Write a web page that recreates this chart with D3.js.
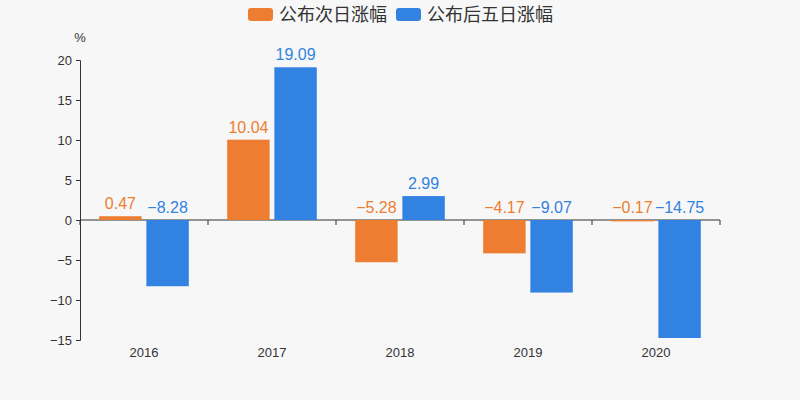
<!DOCTYPE html>
<html>
<head>
<meta charset="utf-8">
<script src="https://cdn.jsdelivr.net/npm/d3@7"></script>
<style>
  body { margin: 0; background: #f7f7f7; }
  svg { display: block; }
</style>
</head>
<body>
<script>
// 公布日涨幅 bar chart

const years = ["2016", "2017", "2018", "2019", "2020"];
const nextDay = [0.47, 10.04, -5.28, -4.17, -0.17];
const fiveDay = [-8.28, 19.09, 2.99, -9.07, -14.75];
const seriesNames = ["公布次日涨幅", "公布后五日涨幅"];
const colors = ["#ed7d31", "#3282e2"];
const yTicks = [-15, -10, -5, 0, 5, 10, 15, 20];

const width = 800, height = 400;
const margin = {top: 60, right: 80, bottom: 60, left: 80};
const fontNum = "'Liberation Sans', Arial, 'Noto Sans CJK SC', sans-serif";
const fontCJK = "'Noto Sans CJK SC', 'Microsoft YaHei', sans-serif";

const svg = d3.select("body").append("svg")
    .attr("width", width)
    .attr("height", height)
    .style("background", "#f7f7f7");

const x = d3.scaleBand()
    .domain(years)
    .range([margin.left, width - margin.right])
    .paddingInner(0.3)
    .paddingOuter(0.15);

const x1 = d3.scaleBand()
    .domain([0, 1])
    .range([0, x.bandwidth()])
    .paddingInner(0.1);

const y = d3.scaleLinear()
    .domain([-15, 20])
    .range([height - margin.bottom, margin.top]);

// y axis
const yAxis = svg.append("g")
    .attr("transform", "translate(" + margin.left + ",0)")
    .call(d3.axisLeft(y).tickValues(yTicks).tickSize(4).tickPadding(4)
        .tickFormat(d => d < 0 ? "\u2212" + Math.abs(d) : d));
yAxis.select(".domain").attr("stroke", "#333");
yAxis.selectAll(".tick line").attr("stroke", "#333");
yAxis.selectAll("text")
    .attr("fill", "#333")
    .style("font-family", fontNum)
    .style("font-size", "13px");

svg.append("text")
    .attr("x", margin.left)
    .attr("y", 42)
    .attr("text-anchor", "middle")
    .attr("fill", "#333")
    .style("font-family", fontNum)
    .style("font-size", "13px")
    .text("%");

// x axis at zero, ticks on category boundaries
const x0 = svg.append("g").attr("transform", "translate(0," + y(0) + ")");
x0.append("line")
    .attr("x1", margin.left).attr("x2", width - margin.right)
    .attr("stroke", "#333");
const step = (width - margin.left - margin.right) / years.length;
x0.selectAll(".xt")
    .data(d3.range(years.length + 1))
    .join("line")
    .attr("class", "xt")
    .attr("x1", i => margin.left + i * step)
    .attr("x2", i => margin.left + i * step)
    .attr("y1", 0).attr("y2", 5)
    .attr("stroke", "#333");

svg.selectAll(".xlabel")
    .data(years)
    .join("text")
    .attr("class", "xlabel")
    .attr("x", d => x(d) + x.bandwidth() / 2)
    .attr("y", 357)
    .attr("text-anchor", "middle")
    .attr("fill", "#333")
    .style("font-family", fontNum)
    .style("font-size", "13px")
    .text(d => d);

// bars
const rows = [];
years.forEach((yr, i) => {
  rows.push({year: yr, s: 0, v: nextDay[i]});
  rows.push({year: yr, s: 1, v: fiveDay[i]});
});

svg.selectAll(".bar")
    .data(rows)
    .join("rect")
    .attr("class", "bar")
    .attr("x", d => x(d.year) + x1(d.s))
    .attr("width", x1.bandwidth())
    .attr("y", d => Math.min(y(0), y(d.v)))
    .attr("height", d => Math.max(1, Math.abs(y(d.v) - y(0))))
    .attr("fill", d => colors[d.s]);

svg.selectAll(".vlabel")
    .data(rows)
    .join("text")
    .attr("class", "vlabel")
    .attr("x", d => x(d.year) + x1(d.s) + x1.bandwidth() / 2)
    .attr("y", d => Math.min(y(0), y(d.v)) - 7)
    .attr("text-anchor", "middle")
    .attr("fill", d => colors[d.s])
    .style("font-family", fontNum)
    .style("font-size", "16px")
    .text(d => (d.v < 0 ? "\u2212" : "") + Math.abs(d.v).toFixed(2));

// legend
const legend = svg.append("g");
const legendX = [248, 396];
seriesNames.forEach((name, i) => {
  legend.append("rect")
      .attr("x", legendX[i]).attr("y", 8)
      .attr("width", 25).attr("height", 13)
      .attr("rx", 3)
      .attr("fill", colors[i]);
  legend.append("text")
      .attr("x", legendX[i] + 31).attr("y", 21)
      .attr("fill", "#333")
      .style("font-family", fontCJK)
      .style("font-size", "18px")
      .text(name);
});
</script>
</body>
</html>
